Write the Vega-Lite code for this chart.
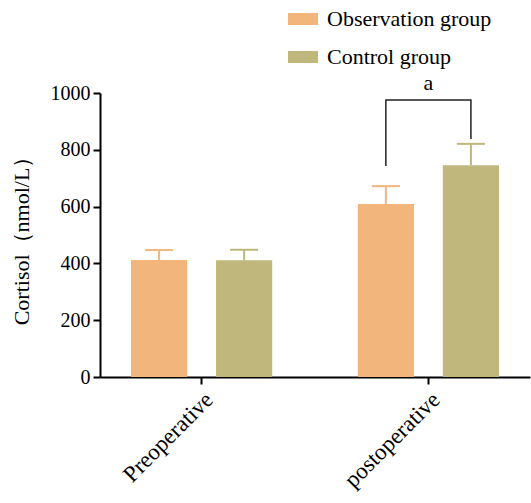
{
  "$schema": "https://vega.github.io/schema/vega-lite/v6.json",
  "width": 430,
  "height": 284,
  "autosize": "none",
  "padding": {"left": 100, "top": 93, "right": 1, "bottom": 126},
  "background": "white",
  "config": {
    "font": "Liberation Serif",
    "view": {"stroke": null},
    "axis": {"grid": false, "domainColor": "black", "domainWidth": 2, "tickColor": "black", "tickWidth": 2, "tickSize": 7, "labelColor": "black", "titleColor": "black", "labelFont": "Liberation Serif", "titleFont": "Liberation Serif"}
  },
  "datasets": {
    "bars": [
      {"time": "Preoperative", "group": "Observation group", "mean": 412, "upper": 447},
      {"time": "Preoperative", "group": "Control group", "mean": 411, "upper": 448},
      {"time": "postoperative", "group": "Observation group", "mean": 609, "upper": 672},
      {"time": "postoperative", "group": "Control group", "mean": 746, "upper": 821}
    ],
    "bracket": [
      {"time": "postoperative", "group": "Observation group", "y": 743, "order": 1},
      {"time": "postoperative", "group": "Observation group", "y": 975, "order": 2},
      {"time": "postoperative", "group": "Control group", "y": 975, "order": 3},
      {"time": "postoperative", "group": "Control group", "y": 838, "order": 4}
    ],
    "label": [
      {"time": "postoperative", "y": 1035, "text": "a"}
    ]
  },
  "encoding": {
    "x": {
      "field": "time", "type": "nominal", "sort": ["Preoperative", "postoperative"],
      "scale": {"paddingInner": 0.25, "paddingOuter": 0.073},
      "axis": {"title": null, "labelAngle": -45, "labelFontSize": 23, "labelPadding": 4}
    }
  },
  "layer": [
    {
      "data": {"name": "bars"},
      "mark": {"type": "bar", "opacity": 1},
      "encoding": {
        "xOffset": {"field": "group", "type": "nominal", "sort": ["Observation group", "Control group"], "scale": {"paddingInner": 0.34, "paddingOuter": 0.17}},
        "y": {
          "field": "mean", "type": "quantitative",
          "scale": {"domain": [0, 1000], "nice": false},
          "axis": {"title": "Cortisol（nmol/L）", "format": "d", "values": [0, 200, 400, 600, 800, 1000], "labelFontSize": 20, "titleFontSize": 22, "titleFontWeight": "normal", "titlePadding": 17, "labelPadding": 3}
        },
        "color": {
          "field": "group", "type": "nominal", "sort": ["Observation group", "Control group"],
          "scale": {"domain": ["Observation group", "Control group"], "range": ["#F2B57C", "#BFB77B"]},
          "legend": {"title": null, "orient": "none", "legendX": 188, "legendY": -89, "symbolType": "M-1,-0.4H1V0.4H-1Z", "symbolSize": 900, "symbolStrokeWidth": 0, "symbolOpacity": 1, "labelFontSize": 22, "labelLimit": 0, "labelOffset": 9, "rowPadding": 12, "padding": 0, "labelColor": "black"}
        }
      }
    },
    {
      "data": {"name": "bars"},
      "mark": {"type": "rule", "strokeWidth": 2, "opacity": 1},
      "encoding": {
        "xOffset": {"field": "group", "type": "nominal", "sort": ["Observation group", "Control group"]},
        "y": {"field": "mean", "type": "quantitative"},
        "y2": {"field": "upper"},
        "color": {"field": "group", "type": "nominal", "sort": ["Observation group", "Control group"]}
      }
    },
    {
      "data": {"name": "bars"},
      "mark": {"type": "tick", "orient": "horizontal", "size": 28, "thickness": 2, "opacity": 1},
      "encoding": {
        "xOffset": {"field": "group", "type": "nominal", "sort": ["Observation group", "Control group"]},
        "y": {"field": "upper", "type": "quantitative"},
        "color": {"field": "group", "type": "nominal", "sort": ["Observation group", "Control group"]}
      }
    },
    {
      "data": {"name": "bracket"},
      "mark": {"type": "line", "color": "#222222", "strokeWidth": 1.5},
      "encoding": {
        "xOffset": {"field": "group", "type": "nominal", "sort": ["Observation group", "Control group"]},
        "y": {"field": "y", "type": "quantitative"},
        "order": {"field": "order", "type": "quantitative"}
      }
    },
    {
      "data": {"name": "label"},
      "mark": {"type": "text", "fontSize": 22, "color": "black", "font": "Liberation Serif"},
      "encoding": {
        "y": {"field": "y", "type": "quantitative"},
        "text": {"field": "text"}
      }
    }
  ]
}
